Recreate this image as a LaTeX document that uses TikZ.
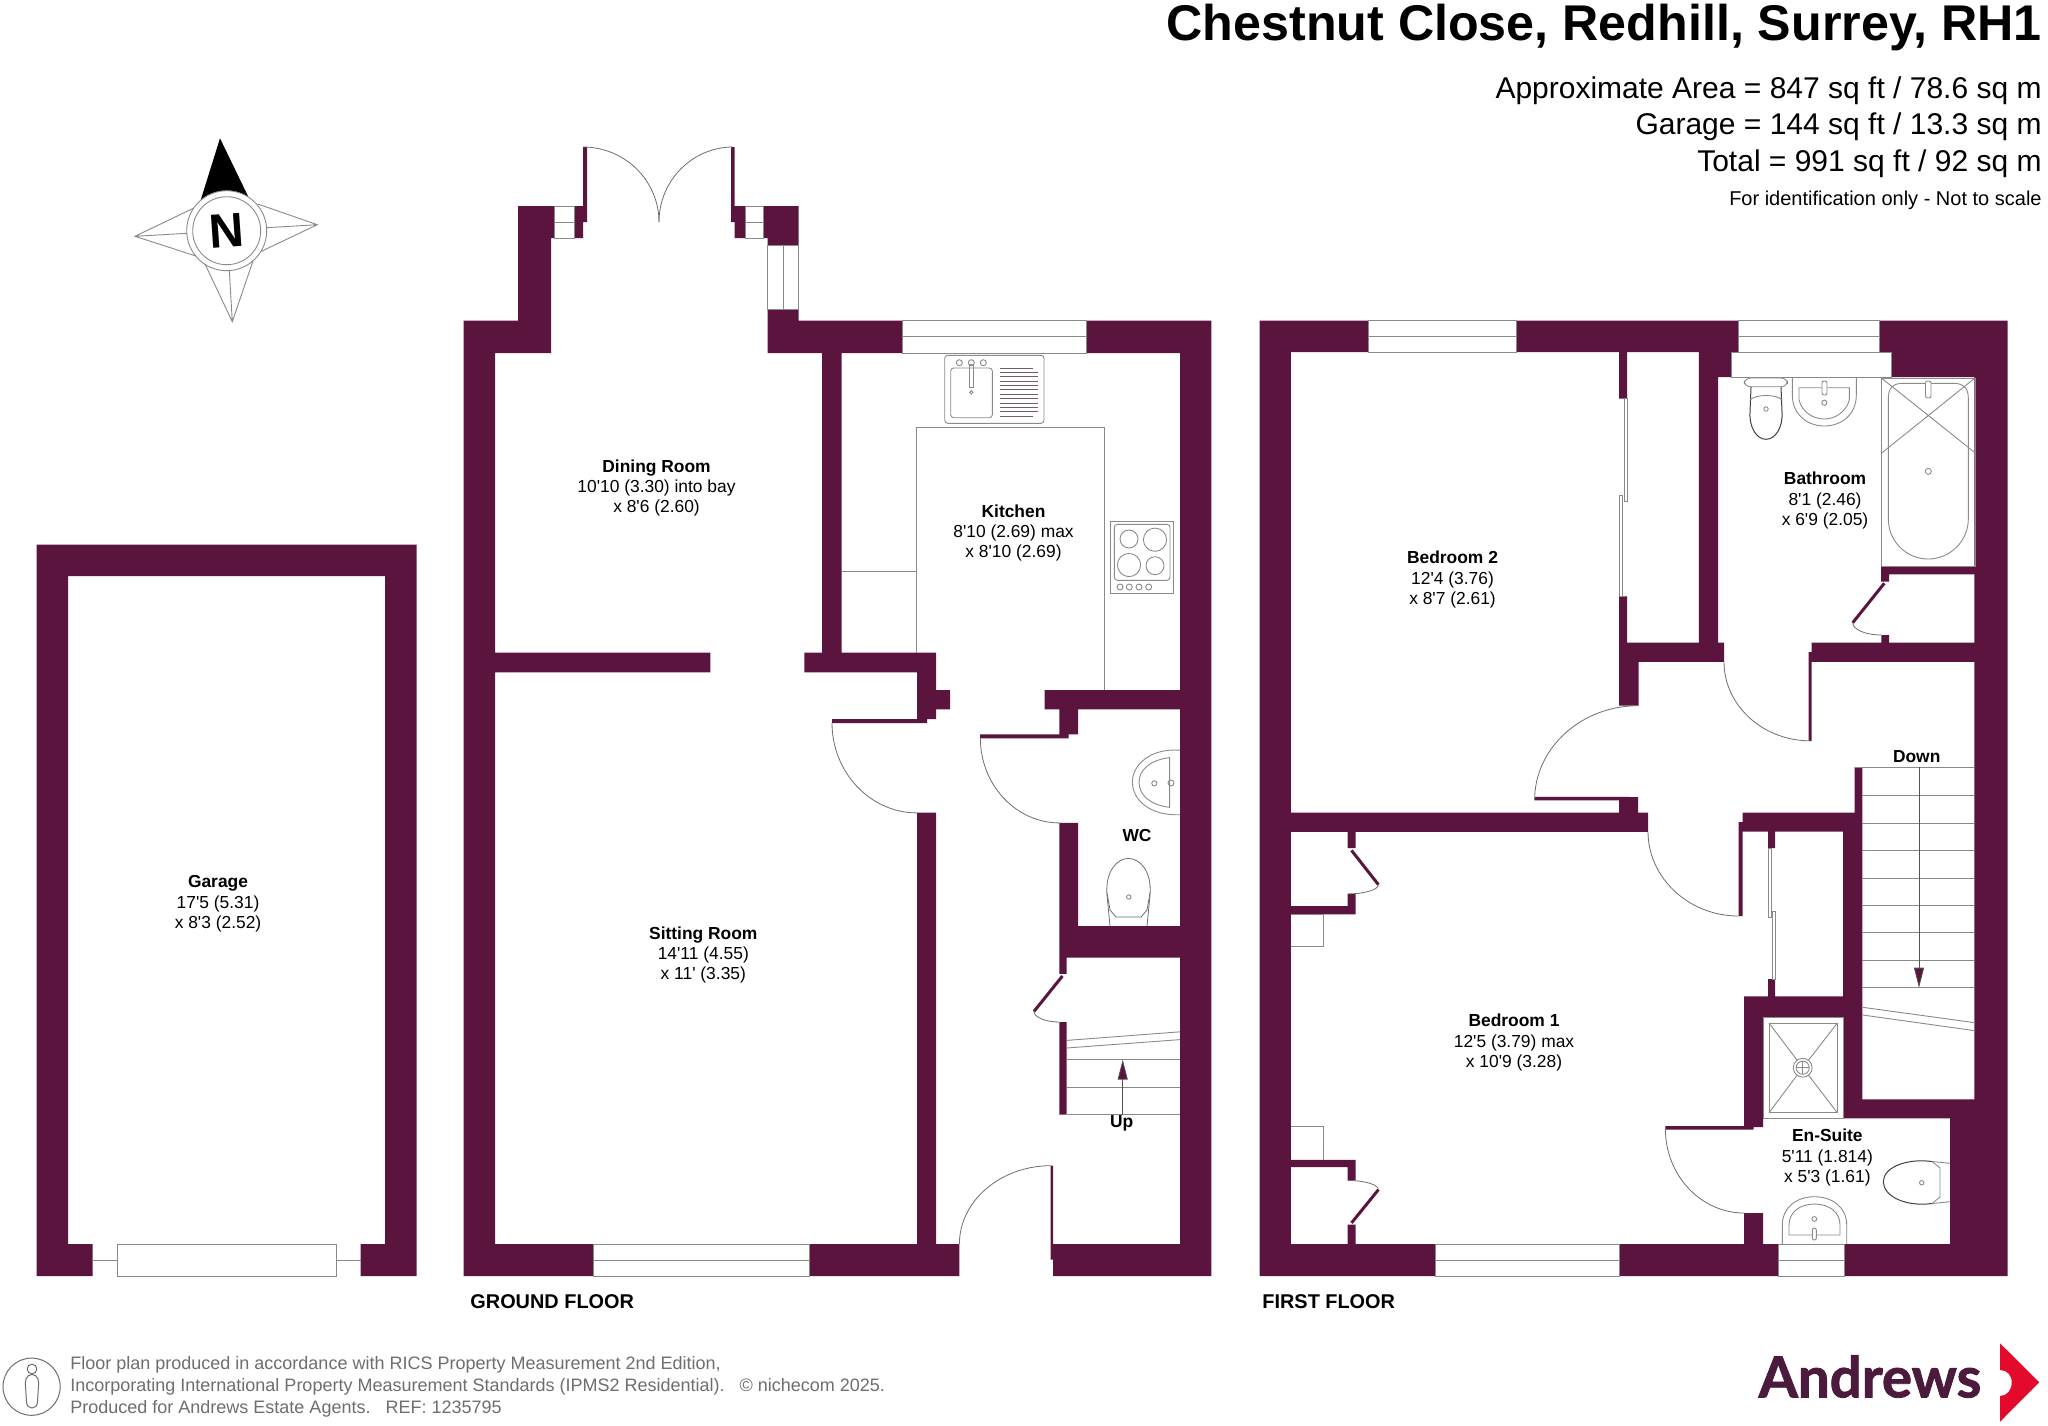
\documentclass[tikz,border=0pt]{standalone}
\usepackage{fontspec}
\setmainfont{Liberation Sans}[Ligatures=TeXOff]
\newfontfamily\logofont{Lato}[BoldFeatures={FakeBold=1.5}]
\usetikzlibrary{arrows.meta,calc}
\definecolor{wallplum}{HTML}{5A143E}
\definecolor{logoplum}{HTML}{4C1A3C}
\definecolor{logored}{HTML}{E30A2B}
\definecolor{fitgrey}{HTML}{8A8A8A}
\definecolor{footgrey}{HTML}{6E6E6E}
\tikzset{
    wall/.style={fill=wallplum,draw=none},
    fitline/.style={draw=fitgrey,line width=0.45pt},
    swingline/.style={draw=fitgrey!80!black,line width=0.4pt},
    leaf/.style={draw=wallplum,line width=1.5pt},
    roomlabel/.style={align=center,inner sep=0pt,font=\fontsize{8.7}{10.2}\selectfont},
    floorlabel/.style={anchor=west,inner sep=0pt,font=\bfseries\fontsize{9.95}{11}\selectfont},
    areatext/.style={anchor=east,inner sep=0pt,font=\fontsize{15}{18}\selectfont},
    stair/.style={-{Triangle[length=10pt,width=5pt,fill=wallplum]},draw=fitgrey!60!black,line width=0.4pt},
}
% quarter door swing: centre x, centre y, x radius, y radius
\newcommand{\doorswing}[4]{\draw[swingline] ({#1+#3},#2) .. controls ({#1+#3},{#2+0.55*#4}) and ({#1+0.55*#3},{#2+#4}) .. (#1,{#2+#4});}
% window across a wall, with its middle line
\newcommand{\winflat}[4]{\draw[fitline,fill=white] (#1,#2) rectangle (#3,#4); \draw[fitline] (#1,{(#2+#4)/2}) -- (#3,{(#2+#4)/2});}
\newcommand{\winside}[4]{\draw[fitline,fill=white] (#1,#2) rectangle (#3,#4); \draw[fitline] ({(#1+#3)/2},#2) -- ({(#1+#3)/2},#4);}
\begin{document}
\begin{tikzpicture}[x=0.5pt,y=-0.5pt]
    \useasboundingbox[fill=white] (0,0) rectangle (2048,1425);
    % garage
    \fill[wall] \foreach \xa/\ya/\xb/\yb in {
        36.6/544.6/416.6/576, 36.6/544.6/68/1276, 385/544.6/416.6/1276,
        36.6/1244/92.7/1276, 360.7/1244/416.6/1276} {(\xa,\ya) rectangle (\xb,\yb)};
    \draw[fitline] (92.7,1260) -- (117.3,1260) (336,1260) -- (360.7,1260);
    \draw[fitline,fill=white] (117.3,1244) rectangle (336,1276);
    % ground floor walls
    \fill[wall] \foreach \xa/\ya/\xb/\yb in {
        463.5/320.5/495/1276, 463.5/320.5/551/353, 518/206/554/238, 518/238/551/353,
        574/206/587/222, 574/222/583/238, 583/147/587/222,
        731/147/734.5/222, 731/206/745/222, 734.5/222/745/238,
        763.5/206/798.7/238, 767.5/238/798.7/245.7, 767.5/309.8/798.7/353,
        767.5/320.5/902/353, 1086/320.5/1211.4/353, 1180/320.5/1211.4/1276,
        822/353/841.5/653, 495/652.6/710.4/672.4, 804.3/652.6/936/672.4,
        917/652.6/936/719, 917/719/927/723, 936/690/950/709.4, 832/719/927/723,
        917/812.7/936/1276, 463.5/1244/593/1276, 809/1244/959.4/1276,
        1053/1244/1211.4/1276, 1050.7/1165.7/1053/1259.6,
        1044.6/690/1180/709.4, 1059.4/709.4/1078/734.3, 980/734.3/1068.6/738.4,
        1059.4/822.9/1078/957.6, 1059.4/926/1180/957.6, 1059.4/957.6/1066.5/973.9,
        1059.4/1022/1066.5/1114.7} {(\xa,\ya) rectangle (\xb,\yb)};
    \winflat{554}{206}{574}{238}
    \winflat{745}{206}{763.5}{238}
    \winside{767.5}{245.7}{798.7}{309.8}
    \winflat{902}{320.5}{1086}{353}
    \winflat{593}{1244}{809}{1276}
    % ground floor doors
    \doorswing{583}{222}{76}{-75}
    \doorswing{733}{222}{-74}{-75}
    \doorswing{917}{722.9}{-85}{90}
    \doorswing{1059.4}{738.4}{-79}{84.5}
    \doorswing{1050.7}{1244}{-91.3}{-78.3}
    \draw[leaf] (1062.4,976) -- (1034,1011.4);
    \doorswing{1059.4}{1011.4}{-25.4}{10.6}
    % kitchen units
    \draw[fitline] (916.7,652.6) -- (916.7,427.3) -- (1104,427.3) -- (1104,690);
    \draw[fitline] (841.5,571) -- (916.7,571);
    \draw[fitline,rounded corners=1.5pt] (944.7,355.3) rectangle (1044,423.3);
    \draw[fitline,rounded corners=1.5pt] (950.7,368) rectangle (992.3,417.7);
    \foreach \tapx in {959.3,971.3,983.3} \draw[fitline] (\tapx,362.7) circle[radius=1.5pt];
    \draw[fitline] (969.7,364) rectangle (973,387);
    \draw[fitline] (971.3,392.3) circle[radius=1.7];
    \foreach \i in {1,...,10} \draw[fitgrey!60!wallplum,line width=0.5pt] (1000,{368+\i*4.39}) -- (1037.7,{368+\i*4.39});
    \draw[fitgrey!60!wallplum,line width=0.5pt] (1000,368) -- (1032.7,368) (1000,416.3) -- (1032.7,416.3);
    \draw[fitline] (1110.7,521) rectangle (1173.7,593.7);
    \draw[fitline,rounded corners=1.5pt] (1114.3,524.3) rectangle (1170,580.3);
    \foreach \bx/\by/\br in {1129/539/4.5,1155/539.7/5.8,1129/565/5.8,1155/565.7/4.5} \draw[fitline] (\bx,\by) circle[radius=\br pt];
    \foreach \kx in {1120,1129.3,1139,1148.7} \draw[fitline] (\kx,587) circle[radius=1.5pt];
    % wc
    \draw[fitline] (1180,750.2) .. controls (1150,748) and (1132.4,765) .. (1132.4,782) .. controls (1132.4,800) and (1150,816) .. (1180,814.7);
    \draw[fitline] (1169.6,757.6) .. controls (1150,760) and (1139,770) .. (1139,782) .. controls (1139,795) and (1150,805) .. (1169.6,807.3) -- cycle;
    \draw[fitline] (1154.3,783.3) circle[radius=1.3pt] (1171,783) circle[radius=1.5pt];
    \draw[swingline] (1110,926) -- (1107,895) .. controls (1105,870) and (1118,858.4) .. (1128.5,858.4) .. controls (1139,858.4) and (1152,870) .. (1150,895) -- (1147,926);
    \draw[swingline] (1107,893) -- (1110,910) -- (1116,917) -- (1141,917) -- (1147,910) -- (1150,893);
    \draw[fitline] (1128.8,897) circle[radius=1.1pt];
    % ground floor stairs
    \draw[fitline] (1066.5,1040.4) -- (1180,1031.8) (1066.5,1048) -- (1180,1039.6);
    \foreach \sy in {1059.6,1087.3,1114.7} \draw[fitline] (1066.5,\sy) -- (1180,\sy);
    \draw[stair] (1122.7,1114.7) -- (1122.7,1059.6);
    % first floor walls
    \fill[wall] \foreach \xa/\ya/\xb/\yb in {
        1259.5/320.7/1290.8/1276, 1259.5/320.7/1368/352, 1516.7/320.7/1738/352,
        1879.4/320.7/2007.7/352, 1891.3/352/2007.7/377, 1698.8/352/1731.6/377,
        1698.8/352/1718/642.5, 1974.4/320.7/2007.7/1276,
        1619/352/1627/398.6, 1619/596.4/1627/642.5, 1619/642.5/1724/661.8,
        1619/661.8/1638.6/705.7, 1619/800.4/1638/831.8, 1629/797/1638/803, 1534.6/796.8/1629/800.4,
        1290.8/812.5/1648/831.8,
        1881/566/1975/574.3, 1881/574/1889/581.7, 1881.3/635/1889/642.7,
        1811.7/642.7/1975/661.8, 1808.7/652/1811.7/741,
        1742.5/812.6/1862.4/831.5, 1738.6/822/1742.5/916,
        1768/831.5/1775/848, 1768/979/1775/996.4,
        1744/996.4/1843/1017, 1744/996.4/1763/1126, 1665.4/1126/1753.5/1129.5, 1753.5/1120/1763/1127,
        1854.5/767/1862.4/831.5, 1843/1099.3/1975/1118.3,
        1843/831.5/1862.4/1118.3, 1950/1118/2007.7/1276,
        1744/1213/1763/1276, 1259.5/1244/1435.6/1276, 1619.6/1244/1778/1276, 1844.7/1244/2007.7/1276,
        1347.5/831.5/1355.5/848, 1347.5/893.9/1355.5/914.4, 1290.8/906/1355.5/914.4,
        1290.8/1159.9/1355.5/1167, 1347.5/1167/1355.5/1180.4, 1347.5/1224.5/1355.5/1244
        } {(\xa,\ya) rectangle (\xb,\yb)};
    \winflat{1368}{320.7}{1516.7}{352}
    \winflat{1738}{320.7}{1879.4}{352}
    \winflat{1435.6}{1244}{1619.6}{1276}
    \winflat{1778}{1244}{1844.7}{1276}
    \draw[fitline] (1731.6,377) -- (1731.6,352) -- (1891.3,352) -- (1891.3,377) -- cycle;
    % wardrobe slides
    \draw[fitline] (1624,398.6) rectangle (1627,501) (1619,495) rectangle (1622,596.4);
    \draw[fitline] (1768,848) rectangle (1771,917.7) (1772,911) rectangle (1775,979);
    % first floor doors
    \doorswing{1638}{800}{-103.4}{-94.3}
    \doorswing{1810}{661.8}{-86}{79}
    \doorswing{1738.6}{831.5}{-90.6}{84.5}
    \doorswing{1744}{1129}{-78.6}{84}
    \draw[leaf] (1884.3,583.3) -- (1852.7,622.7);
    \doorswing{1881.3}{622.7}{-28.6}{12.3}
    \draw[leaf] (1351.5,850.4) -- (1378.4,884.6);
    \doorswing{1347.5}{884.6}{30.9}{9.3}
    \draw[leaf] (1378.4,1189.7) -- (1351.5,1222.9);
    \doorswing{1347.5}{1189.7}{30.9}{-9.3}
    % cupboards in bedroom 1
    \draw[fitline] (1290.8,914.4) -- (1323.6,914.4) -- (1323.6,946.6) -- (1290.8,946.6);
    \draw[fitline] (1290.8,1126.7) -- (1323.6,1126.7) -- (1323.6,1159.9);
    % bathroom
    \draw[fitline] (1881.3,378) rectangle (1975,566);
    \draw[fitline] (1881.3,378) -- (1975,452.7) (1975,378) -- (1881.3,453.3);
    \draw[fitline] (1888.3,398) .. controls (1888.3,388) and (1893,383.3) .. (1903,383.3) -- (1953.6,383.3) .. controls (1963,383.3) and (1968.3,388) .. (1968.3,398) -- (1968.3,519) .. controls (1968.3,541) and (1950,559) .. (1928.3,559) .. controls (1906,559) and (1888.3,541) .. (1888.3,519) -- cycle;
    \draw[fitline] (1928.3,471.3) circle[radius=1.5pt];
    \draw[fitline,fill=white,rounded corners=1pt] (1925.5,381) rectangle (1931,398);
    \draw[fitline,rounded corners=3pt] (1744.3,378) rectangle (1787.3,386.7);
    \draw[draw=black!75,line width=0.5pt] (1751,387) -- (1750,412) .. controls (1749,428) and (1757,439.3) .. (1766,439.3) .. controls (1775,439.3) and (1783,428) .. (1782,412) -- (1781,387);
    \draw[fitline] (1750,400) .. controls (1755,394) and (1777,394) .. (1782,400);
    \draw[fitline] (1766,409) circle[radius=1.1pt];
    \draw[fitline] (1792.3,378) -- (1792.3,395) .. controls (1792.3,415) and (1808,426) .. (1824.3,426) .. controls (1841,426) and (1856.3,415) .. (1856.3,395) -- (1856.3,378);
    \draw[fitline] (1799,387.7) -- (1849.3,387.7) -- (1849.3,400) .. controls (1846,412) and (1835,419) .. (1824.3,419) .. controls (1813,419) and (1802,412) .. (1799,400) -- cycle;
    \draw[fitline] (1824.3,402.7) circle[radius=1.3pt];
    \draw[fitline,fill=white,rounded corners=1pt] (1822,381) rectangle (1827,395);
    % first floor stairs
    \draw[fitline] (1854.5,767) -- (1974.4,767);
    \foreach \sy in {795,823,850.4,878,905,932.7,960,987.7} \draw[fitline] (1862.4,\sy) -- (1974.4,\sy);
    \draw[fitline] (1862.7,1007.3) -- (1975,1022.7) (1862.7,1015) -- (1975,1030.7);
    \draw[stair] (1919,767) -- (1919,987.7);
    % en-suite
    \draw[fitline,fill=white] (1763,1017.3) rectangle (1843,1118.3);
    \draw[fitline] (1769,1023) rectangle (1837.3,1112.7);
    \coordinate (drain) at (1802.7,1067.7);
    \draw[fitline] (1769,1023) -- (drain) (1837.3,1023) -- (drain) (1769,1112.7) -- (drain) (1837.3,1112.7) -- (drain);
    \draw[fitline,fill=white] (drain) circle[radius=4.7pt];
    \draw[fitline] (drain) circle[radius=3.3pt];
    \draw[fitline] ($(drain)+(-6.6,0)$) -- ($(drain)+(6.6,0)$) ($(drain)+(0,-6.6)$) -- ($(drain)+(0,6.6)$);
    \draw[fitline] (1950,1163.3) -- (1932,1161.5) (1950,1201.7) -- (1932,1203.5);
    \draw[draw=black!75,line width=0.5pt] (1932,1161.5) .. controls (1905,1158) and (1883.3,1168) .. (1883.3,1181.7) .. controls (1883.3,1196) and (1905,1207) .. (1932,1203.5);
    \draw[fitline] (1932,1161.5) -- (1940,1168) -- (1940,1197) -- (1932,1203.5);
    \draw[fitline] (1921.7,1182.7) circle[radius=1.1pt];
    \draw[fitline] (1782.3,1244) -- (1782.3,1225) .. controls (1782.3,1207) and (1797,1196.7) .. (1814.5,1196.7) .. controls (1832,1196.7) and (1846.7,1207) .. (1846.7,1225) -- (1846.7,1244);
    \draw[fitline] (1789,1235) -- (1789,1225) .. controls (1789,1212) and (1800,1204) .. (1814.5,1204) .. controls (1829,1204) and (1840,1212) .. (1840,1225) -- (1840,1235) -- cycle;
    \draw[fitline] (1814.3,1219) circle[radius=1.2pt];
    \draw[fitline,fill=white,rounded corners=1pt] (1812.3,1228) rectangle (1816.3,1240);
    % compass
    \draw[fitline] (193.3,208.3) -- (135,236.3) -- (196,256) (135,236.3) -- (186.7,233.3);
    \draw[fitline] (257.7,204) -- (317.3,224.7) -- (259.3,252.3) (317.3,224.7) -- (266,227.7);
    \draw[fitline] (205,264) -- (232.3,321.7) -- (253.3,260) (232.3,321.7) -- (229.3,270);
    \fill[black] (200.7,200) -- (220,138.3) -- (248.3,196.7) -- cycle;
    \draw[fitline,fill=white] (226.7,230.7) circle[radius=20pt];
    \draw[fitline] (226.7,230.7) circle[radius=17pt];
    \node[rotate=4,inner sep=0pt,font=\bfseries\fontsize{24}{24}\selectfont] (north) at (226.7,230.7) {N};
    % labels
    \node[roomlabel] (garage) at (218,904) {\textbf{Garage}\\17'5 (5.31)\\x 8'3 (2.52)};
    \node[roomlabel] (dining) at (656.5,488) {\textbf{Dining Room}\\10'10 (3.30) into bay\\x 8'6 (2.60)};
    \node[roomlabel] (kitchen) at (1013.5,533) {\textbf{Kitchen}\\8'10 (2.69) max\\x 8'10 (2.69)};
    \node[roomlabel] (sitting) at (703.3,955) {\textbf{Sitting Room}\\14'11 (4.55)\\x 11' (3.35)};
    \node[roomlabel,font=\bfseries\fontsize{8.7}{10.2}\selectfont] (wc) at (1137,835.5) {WC};
    \node[roomlabel,font=\bfseries\fontsize{8.7}{10.2}\selectfont] (up) at (1121.6,1123.5) {Up};
    \node[roomlabel] (bed2) at (1452.5,579.5) {\textbf{Bedroom 2}\\12'4 (3.76)\\x 8'7 (2.61)};
    \node[roomlabel] (bath) at (1825,500.5) {\textbf{Bathroom}\\8'1 (2.46)\\x 6'9 (2.05)};
    \node[roomlabel] (bed1) at (1514,1042.5) {\textbf{Bedroom 1}\\12'5 (3.79) max\\x 10'9 (3.28)};
    \node[roomlabel] (ensuite) at (1827.3,1157.5) {\textbf{En-Suite}\\5'11 (1.814)\\x 5'3 (1.61)};
    \node[roomlabel,font=\bfseries\fontsize{8.7}{10.2}\selectfont] (down) at (1916.7,757) {Down};
    \node[floorlabel] (ground) at (470,1302) {GROUND FLOOR};
    \node[floorlabel] (first) at (1262,1302) {FIRST FLOOR};
    % heading
    \node[anchor=east,inner sep=0pt,font=\bfseries\fontsize{25.1}{28}\selectfont] (title) at (2042,27.5) {Chestnut Close, Redhill, Surrey, RH1};
    \node[areatext] (area) at (2042,91) {Approximate Area = 847 sq ft / 78.6 sq m};
    \node[areatext] (gar) at (2042,127) {Garage = 144 sq ft / 13.3 sq m};
    \node[areatext] (total) at (2042,164) {Total = 991 sq ft / 92 sq m};
    \node[anchor=east,inner sep=0pt,font=\fontsize{10}{12}\selectfont] (ident) at (2042,200.5) {For identification only - Not to scale};
    % footer
    \draw[draw=footgrey,line width=0.5pt] (31.6,1386.7) circle[radius=14.3pt];
    \draw[draw=footgrey,line width=0.5pt] (32,1369) circle[radius=2.4pt];
    \draw[draw=footgrey,line width=0.5pt] (32,1374.5) .. controls (26,1375) and (25,1380) .. (25.5,1386) -- (26.5,1402) .. controls (27,1410) and (37,1410) .. (37.5,1402) -- (38.5,1386) .. controls (39,1380) and (38,1375) .. (32,1374.5) -- cycle;
    \node[anchor=west,align=left,inner sep=0pt,text=footgrey,font=\fontsize{9}{10.9}\selectfont] (note) at (70,1386.7)
        {Floor plan produced in accordance with RICS Property Measurement 2nd Edition,\\
         Incorporating International Property Measurement Standards (IPMS2 Residential).\ \ \ © nichecom 2025.\\
         Produced for Andrews Estate Agents.\ \ \ REF: 1235795};
    % logo
    \node[anchor=base west,inner sep=0pt,text=logoplum,font=\logofont\bfseries\fontsize{28.2}{30}\selectfont] (logo) at (1758.3,1397.3) {Andrews};
    \fill[logored] (2000,1343.3) -- (2039.3,1382.3) -- (2000,1421.7) -- (2000,1396) .. controls (2007,1396) and (2011.7,1390) .. (2011.7,1382.3) .. controls (2011.7,1375) and (2007,1370) .. (2000,1370) -- cycle;
\end{tikzpicture}
\end{document}
